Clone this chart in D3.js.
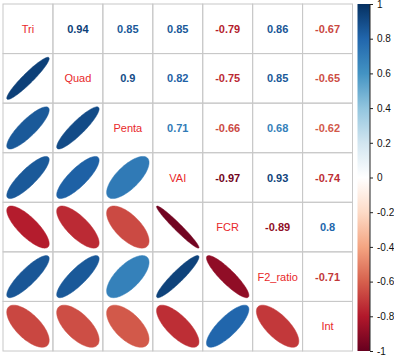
<!DOCTYPE html>
<html><head><meta charset="utf-8">
<script src="https://cdn.jsdelivr.net/npm/d3@7"></script>
<style>body{margin:0;background:#fff}svg{display:block}</style>
</head><body>
<svg id="c" width="394" height="359"></svg>
<script>
const variables = ["Tri","Quad","Penta","VAI","FCR","F2_ratio","Int"];
const rowTri   = [1, 0.94, 0.85, 0.85, -0.79, 0.86, -0.67];
const rowQuad  = [0.94, 1, 0.9, 0.82, -0.75, 0.85, -0.65];
const rowPenta = [0.85, 0.9, 1, 0.71, -0.66, 0.68, -0.62];
const rowVAI   = [0.85, 0.82, 0.71, 1, -0.97, 0.93, -0.74];
const rowFCR   = [-0.79, -0.75, -0.66, -0.97, 1, -0.89, 0.8];
const rowF2    = [0.86, 0.85, 0.68, 0.93, -0.89, 1, -0.71];
const rowInt   = [-0.67, -0.65, -0.62, -0.74, 0.8, -0.71, 1];
const corr = [rowTri, rowQuad, rowPenta, rowVAI, rowFCR, rowF2, rowInt];
const legendTicks = [1, 0.8, 0.6, 0.4, 0.2, 0, -0.2, -0.4, -0.6, -0.8, -1];
const palette = ["#67001F","#B2182B","#D6604D","#F4A582","#FDDBC7","#FFFFFF","#D1E5F0","#92C5DE","#4393C3","#2166AC","#053061"];

const svg = d3.select("#c");
const gx0 = 3, gx1 = 352.5, gy0 = 4, gy1 = 351;
const x = d3.scaleBand().domain(variables).range([gx0, gx1]);
const y = d3.scaleBand().domain(variables).range([gy0, gy1]);
const color = d3.scaleLinear().domain(d3.range(palette.length).map(i => -1 + 2*i/(palette.length-1))).range(palette).interpolate(d3.interpolateRgb);

const cells = [];
variables.forEach((rv, i) => variables.forEach((cv, j) => cells.push({i, j, r: corr[i][j], rv, cv})));

const g = svg.append("g");
g.selectAll("rect.cell").data(cells).join("rect")
  .attr("x", d => x(d.cv)).attr("y", d => y(d.rv))
  .attr("width", x.bandwidth()).attr("height", y.bandwidth())
  .attr("fill", "none").attr("stroke", "#c8c8c8").attr("stroke-width", 1);

function ellipsePath(rho, cx, cy, w, h) {
  const a = Math.acos(rho);
  const pts = d3.range(0, 99).map(t => {
    const k = 2*Math.PI*t/98;
    return [cx + 0.85*w*Math.cos(k + a/2)/2, cy - 0.85*h*Math.cos(k - a/2)/2];
  });
  return d3.line()(pts) + "Z";
}
g.selectAll("path.ell").data(cells.filter(d => d.i > d.j)).join("path")
  .attr("d", d => ellipsePath(d.r, x(d.cv) + x.bandwidth()/2, y(d.rv) + y.bandwidth()/2, x.bandwidth(), y.bandwidth()))
  .attr("fill", d => color(d.r)).attr("stroke", d => color(d.r)).attr("stroke-width", 0.5);

g.selectAll("text.num").data(cells.filter(d => d.i < d.j)).join("text")
  .attr("x", d => x(d.cv) + x.bandwidth()/2).attr("y", d => y(d.rv) + y.bandwidth()/2)
  .attr("text-anchor", "middle").attr("dominant-baseline", "central")
  .attr("font-family", "Liberation Sans, Arial, sans-serif").attr("font-size", 11).attr("font-weight", "bold")
  .attr("fill", d => color(d.r))
  .text(d => String(d.r));

g.selectAll("text.lab").data(cells.filter(d => d.i === d.j)).join("text")
  .attr("x", d => x(d.cv) + x.bandwidth()/2).attr("y", d => y(d.rv) + y.bandwidth()/2)
  .attr("text-anchor", "middle").attr("dominant-baseline", "central")
  .attr("font-family", "Liberation Sans, Arial, sans-serif").attr("font-size", 11)
  .attr("fill", "#e8282a")
  .text(d => d.rv);

const lx0 = 357.5, lx1 = 370;
const ly = d3.scaleLinear().domain([1, -1]).range([gy0, gy1]);
const defs = svg.append("defs");
const grad = defs.append("linearGradient").attr("id", "lg").attr("x1", 0).attr("y1", 1).attr("x2", 0).attr("y2", 0);
grad.selectAll("stop").data(palette).join("stop")
  .attr("offset", (d, i) => i/(palette.length-1)).attr("stop-color", d => d);
svg.append("rect").attr("x", lx0).attr("y", gy0).attr("width", lx1 - lx0).attr("height", gy1 - gy0)
  .attr("fill", "url(#lg)");
const axis = d3.axisRight(ly).tickValues(legendTicks).tickSize(3).tickPadding(4).tickFormat(d => String(d));
const ag = svg.append("g").attr("transform", `translate(${lx1},0)`).call(axis);
ag.select(".domain").attr("stroke", "#222").attr("d", `M0,${gy0}V${gy1}`);
ag.selectAll(".tick line").attr("stroke", "#222");
ag.selectAll(".tick text").attr("font-family", "Liberation Sans, Arial, sans-serif").attr("font-size", 10).attr("fill", "#111");
</script>
</body></html>
